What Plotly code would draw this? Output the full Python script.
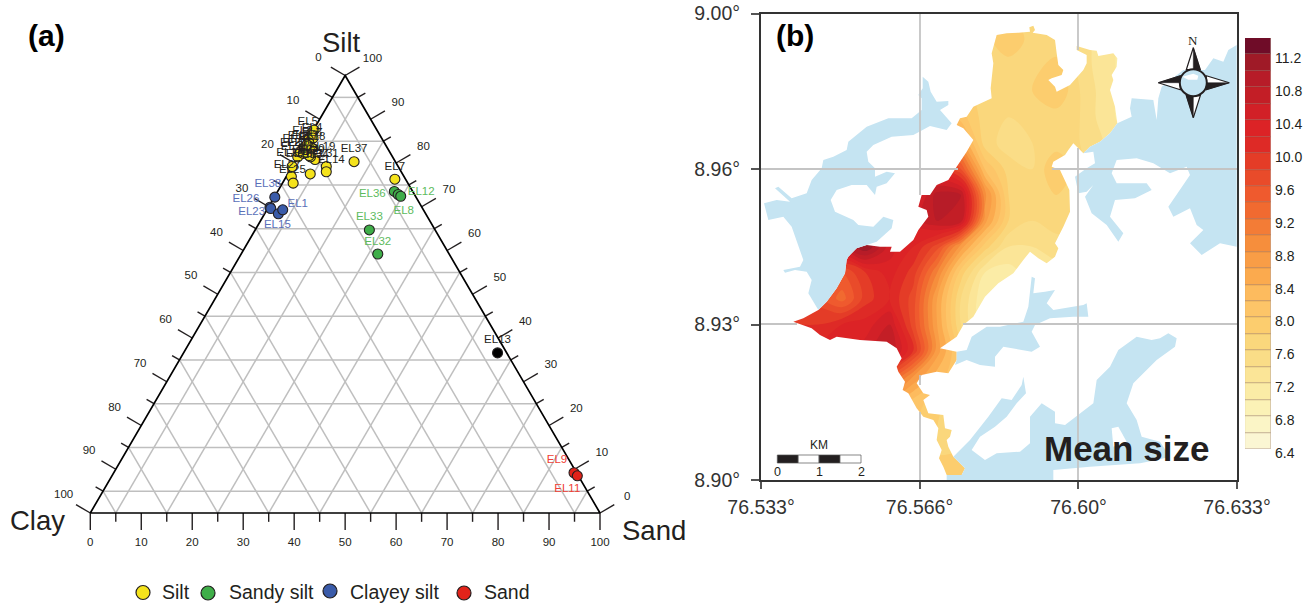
import plotly.graph_objects as go

# ---------- panel (a): ternary data (percent) ----------
SAMPLE_NAMES_SILT = ["EL37","EL7","EL31","EL14","EL34","EL5","EL4","EL6","EL2","EL3","EL10","EL16","EL17","EL18",
                     "EL19","EL20","EL21","EL22","EL24","EL27","EL25","EL28","EL29","EL30"]
SILT_SAND = [11.6,21.6,6.7,7.3,4.4,0.0,0.15,0.85,0.15,0.25,0.6,0.5,1.0,1.8,3.7,2.5,2.1,0.0,0.0,0.0,1.0,2.1,0.4,0.7]
SILT_SILT = [80.3,76.3,79.2,78.0,77.5,86.9,87.5,85.7,85.3,83.7,84.6,82.6,83.0,83.4,80.8,81.4,81.7,81.4,82.5,79.2,76.9,75.4,84.2,82.2]

SANDY_NAMES = ["EL36","EL12","EL8","EL33","EL32"]
SANDY_SAND = [22.9,24.0,24.7,22.4,26.8]
SANDY_SILT = [73.5,72.8,72.4,64.7,59.2]

CLAYEY_NAMES = ["EL38","EL26","EL23","EL15","EL1"]
CLAYEY_SAND = [0.1,0.3,0.6,2.7,3.1]
CLAYEY_SILT = [72.2,69.9,69.6,68.4,69.3]

SAND_NAMES = ["EL9","EL11"]
SAND_SAND = [90.3,91.3]
SAND_SILT = [9.2,8.5]

OTHER_NAMES = ["EL13"]
OTHER_SAND = [61.6]
OTHER_SILT = [36.6]

# label offsets from each point, screen pixels
SILT_LABEL_DX = [0,0,-1,5,5,-4,-2,-1,-6,-7,-13,-3,-2,0,7,-17,-15,-8,5,-5,1,6,4,8]
SILT_LABEL_DY = [-13,-12,-12,-12,-19,-11,-2,-5,-9,-11,-4,-9,-14,-11,-12,-14,-8,-4,-2,-1,-6,-29,7,-4]
SANDY_LABEL_DX = [-22,23,3,0,0]
SANDY_LABEL_DY = [3,-2,15,-13,-12]
CLAYEY_LABEL_DX = [-7,-24,-19,-1,15]
CLAYEY_LABEL_DY = [-13,-8,4,11,-6]
SAND_LABEL_DX = [-17,-10]
SAND_LABEL_DY = [-13,13]
OTHER_LABEL_DX = [0]
OTHER_LABEL_DY = [-13]

TERNARY_MAJOR = [0,10,20,30,40,50,60,70,80,90,100]
TERNARY_MINOR = [5,15,25,35,45,55,65,75,85,95]

LEGEND_NAMES = ["Silt","Sandy silt","Clayey silt","Sand"]
LEGEND_COLORS = ["#f5e31c","#3fae49","#3a5ba9","#e2231a"]
LEGEND_KEY_PX = [143,208,330,464]
LEGEND_KEY_PY = [592.5,593,591,593]
LEGEND_TEXT_PX = [160,227,348,482]

# ---------- panel (b): mean size read on a lon/lat lattice ----------
LON_TICKS = [76.533,76.5663,76.5997,76.633]
LON_LABELS = ["76.533°","76.566°","76.60°","76.633°"]
LAT_TICKS = [8.90,8.93,8.96,8.99]
LAT_LABELS = ["8.90°","8.93°","8.96°","9.00°"]

GRID_LON = [76.535,76.54,76.545,76.55,76.555,76.56,76.565,76.57,76.575,76.58,76.585,76.59,76.595,76.60,76.605,76.61]
GRID_LAT = [8.90,8.905,8.91,8.915,8.92,8.925,8.93,8.935,8.94,8.945,8.95,8.955,8.96,8.965,8.97,8.975,8.98,8.985,8.99]
MEAN_SIZE = [
 [8.0,8.0,8.0,8.0,8.0,8.0,8.0,7.9,7.9,7.8,7.6,7.4,7.2,7.0,7.0,7.0],
 [8.0,8.0,8.0,8.0,8.0,8.0,8.0,7.8,7.8,7.6,7.4,7.2,7.0,7.0,7.0,7.0],
 [8.4,8.4,8.4,8.4,8.4,8.3,8.0,7.8,7.6,7.4,7.2,7.0,7.0,7.0,7.0,7.0],
 [9.0,9.0,9.0,9.0,9.0,8.6,8.1,7.9,7.6,7.2,7.0,7.0,7.0,7.0,7.0,7.0],
 [9.6,9.6,9.6,9.8,10.0,9.6,8.8,8.3,8.0,7.4,7.0,7.0,7.0,7.0,7.0,7.0],
 [10.0,10.0,10.2,10.3,10.5,10.8,10.0,8.7,7.9,7.2,7.0,7.0,7.0,7.0,7.0,7.0],
 [10.0,10.0,10.0,10.2,10.3,10.6,9.7,8.6,7.6,7.0,6.9,7.0,7.1,7.1,7.1,7.1],
 [9.8,9.7,9.7,9.3,9.9,10.2,9.7,8.6,7.6,7.0,6.9,7.0,7.1,7.1,7.1,7.1],
 [10.0,10.0,10.0,9.6,10.0,10.3,9.9,9.0,7.9,7.2,7.1,7.3,7.3,7.3,7.3,7.3],
 [10.5,10.5,10.6,10.7,11.2,10.5,10.2,9.7,8.7,7.9,7.4,7.4,7.5,7.5,7.5,7.5],
 [10.4,10.4,10.4,10.4,10.4,10.4,10.5,10.8,10.7,8.7,7.8,7.6,7.7,7.7,7.6,7.5],
 [10.0,10.0,10.0,10.0,10.0,10.0,10.2,10.9,10.8,8.9,7.8,7.7,7.8,7.7,7.5,7.4],
 [9.6,9.6,9.6,9.6,9.6,9.6,9.8,10.0,9.6,8.2,7.7,7.6,8.0,7.7,7.4,7.3],
 [9.0,9.0,9.0,9.0,9.0,9.0,9.0,9.3,8.7,7.7,7.5,7.6,7.7,7.6,7.4,7.2],
 [8.4,8.4,8.4,8.4,8.4,8.4,8.4,8.5,8.1,7.7,7.6,7.7,7.7,7.6,7.3,7.1],
 [8.0,8.0,8.0,8.0,8.0,8.0,8.0,8.0,7.9,7.7,7.7,7.8,8.0,7.6,7.3,7.1],
 [7.8,7.8,7.8,7.8,7.8,7.8,7.8,7.8,7.8,7.7,7.7,7.7,7.9,7.5,7.3,7.1],
 [7.7,7.7,7.7,7.7,7.7,7.7,7.7,7.7,7.7,7.7,8.0,7.7,7.6,7.5,7.3,7.1],
 [7.7,7.7,7.7,7.7,7.7,7.7,7.7,7.7,7.7,7.7,7.8,7.7,7.6,7.5,7.3,7.1],
]

BAND_LEVELS = [6.4+0.2*i for i in range(25)]
BAND_COLORS = ["#fbf6d3","#fbf5c6","#fbf2b6","#fbeca6","#fbe597","#fadd87","#fad77c","#fccd6e","#fdc568","#fdbb5e",
               "#fbaa4e","#f99d46","#f68e3c","#f37c36","#f16a30","#ef5a2e","#e94b2a","#e43c27","#de2a26","#dc2326",
               "#d22027","#c31e26","#b71c28","#9f1a27","#8c132a"]
COLORBAR_TOP_COLOR = "#6f0c28"
BAR_TICKS = [6.4,6.8,7.2,7.6,8.0,8.4,8.8,9.2,9.6,10.0,10.4,10.8,11.2]

# Shorelines traced at 3x from crops whose corners are (740,20) and (740,260)
EST_A = [(770,45),(800,40),(835,38),(870,35),(868,22),(880,17),(885,30),(878,38),(920,45),(945,60),(950,100),(955,135),(970,150),(965,165),(935,175),(925,180),(945,200),(950,215),(990,195),(1015,165),(1030,150),(1040,130),(1040,105),(1010,90),(1010,78),(1050,90),(1070,92),(1075,108),(1120,100),(1132,115),(1130,140),(1115,165),(1120,180),(1110,210),(1125,260),(1132,310),(1110,340),(1080,365),(1050,380),(1030,400),(1015,385),(1000,370),(985,390),(975,405),(940,425),(935,440),(960,450),(975,480),(988,510),(990,575),(970,620),(945,670),(955,685),(945,710),(920,730),(895,715),(870,695),(850,720)]
EST_B = [(820,40),(775,70),(735,110),(700,170),(670,195),(650,230),(600,265),(650,275),(650,300),(625,340),(590,335),(545,345),(530,370),(540,385),(550,400),(570,405),(550,420),(565,460),(610,465),(615,505),(635,510),(630,530),(620,540),(625,560),(640,590),(660,610),(675,625),(665,645),(620,645),(610,620),(597,595),(605,570),(590,540),(595,505),(580,480),(550,470),(530,445),(505,400),(488,390),(495,365),(475,335),(470,320),(485,295),(470,265),(440,245),(360,240),(315,235),(290,230),(270,240),(240,225),(215,205),(160,185),(190,175),(235,150),(260,125),(290,85),(315,40)]
EST_C = [(320,720),(325,710),(350,685),(380,675),(420,680),(455,680),(450,695),(480,695),(520,660),(535,630),(565,590),(560,570),(535,560),(545,525),(570,525),(590,495),(625,480),(650,440),(680,395),(700,360),(670,325),(650,315),(660,295),(680,290),(700,260),(755,235),(752,205),(760,130),(755,100)]

WATER_LEFT_A = [(72,550),(110,540),(150,545),(105,505),(115,500),(155,535),(200,520),(215,480),(245,445),(250,420),(280,410),(320,390),(325,365),(380,320),(445,295),(515,295),(545,270),(545,235),(535,225),(548,205),(548,170),(565,185),(572,215),(590,245),(625,243),(625,255),(600,270),(635,310),(620,330),(570,318),(520,345),(455,350),(400,375),(380,395),(385,425),(405,445),(405,470),(440,455),(465,460),(440,490),(410,500),(405,525),(380,495),(335,495),(290,510),(272,540),(285,575),(340,600),(355,615),(400,620),(430,590),(460,600),(455,625),(410,665),(380,675),(350,685),(325,710),(320,720)]
WATER_LEFT_B = [(315,40),(290,85),(260,125),(235,150),(205,100),(215,60),(200,35),(165,30),(135,38),(130,30),(180,20),(190,0)]
WATER_LEFT_C = [(155,620),(130,590),(85,600)]
WATER_RIGHT = [(1490,75),(1465,90),(1450,125),(1420,115),(1395,150),(1330,150),(1265,200),(1255,235),(1250,300),(1240,240),(1175,235),(1170,265),(1175,290),(1132,310),(1110,340),(1080,365),(1050,380),(1030,400),(1060,395),(1065,430),(1040,445),(1005,470),(1015,520),(1040,515),(1060,495),(1035,530),(1055,580),(1100,615),(1135,665),(1150,640),(1110,590),(1125,540),(1185,535),(1235,510),(1220,490),(1130,490),(1115,460),(1130,420),(1190,415),(1240,430),(1290,460),(1340,440),(1350,465),(1320,510),(1285,560),(1300,590),(1350,565),(1370,615),(1390,630),(1350,670),(1385,705),(1440,670),(1490,680)]
WATER_CHANNEL = [(650,275),(680,270),(695,230),(740,200),(780,200),(850,185),(865,140),(875,50),(885,55),(880,100),(915,95),(945,90),(920,130),(940,150),(1030,135),(1040,130),(1045,170),(1000,170),(930,175),(885,195),(875,215),(900,260),(875,275),(790,260),(765,290),(765,320),(720,315),(680,300),(645,315),(650,300)]
WATER_LAKE = [(640,590),(690,540),(745,470),(785,415),(815,420),(845,375),(850,350),(858,400),(830,430),(800,470),(765,500),(720,530),(695,570),(735,600),(770,580),(840,575),(870,550),(870,470),(905,430),(945,455),(945,490),(975,495),(1060,430),(1070,360),(1110,320),(1135,270),(1190,230),(1235,240),(1260,235),(1285,220),(1310,235),(1305,260),(1250,300),(1230,320),(1180,370),(1160,430),(1190,480),(1205,530),(1260,545),(1290,590),(1250,600),(1200,610),(1050,620),(940,630),(940,660),(620,660),(620,645),(665,645),(675,625),(660,610)]
ISLET = [(1115,505),(1135,500),(1160,545),(1120,560)]

GRID_SEGMENTS_LAT = [(169,753,958),(169,1052,1237),(324,753,797),(324,963,1237)]
GRID_SEGMENTS_LON = [(920,13.5,195),(920,375,385),(920,412,487),(1078,13.5,50),(1078,148,487)]

INK = "#231f20"
WATER = "#c5e4f2"
GRIDC = "#bfbfbf"
FONT = "Liberation Sans"
W, H = 1313, 604

# ---------- panel geometry (screen pixels) ----------
TX0, TY0, PXX, PXY = 90.3, 513.0, 5.097, 4.375
MX0, MX1, MY0, MY1 = 761.0, 1237.0, 480.0, 13.5
LONR = (76.533, 76.633)
LATR = (8.90, 8.99)


def lon_of(px):
    return LONR[0] + (px - MX0) / (MX1 - MX0) * (LONR[1] - LONR[0])


def lat_of(py):
    return LATR[0] + (py - MY0) / (MY1 - MY0) * (LATR[1] - LATR[0])


def from_crop(points, oy):
    return [(740 + a / 3, oy + b / 3) for a, b in points]


def geo(points):
    return [lon_of(p[0]) for p in points], [lat_of(p[1]) for p in points]


def closed(points):
    return list(points) + [points[0]]


def txy(sand, silt):
    return sand + silt / 2, silt


def tx_of(px):
    return (px - TX0) / PXX


def ty_of(py):
    return (TY0 - py) / PXY


fig = go.Figure()
TAX = dict(xaxis="x", yaxis="y")
MAP = dict(xaxis="x2", yaxis="y2")
SKIP = dict(hoverinfo="skip", showlegend=False)


def tline(xs, ys, color, width):
    fig.add_trace(go.Scatter(x=xs, y=ys, mode="lines", line=dict(color=color, width=width), **TAX, **SKIP))


# ternary grid
gx, gy = [], []
for v in TERNARY_MINOR:
    for a, b in [((0, v), (100 - v, v)), ((v, 0), (v, 100 - v)), ((100 - v, 0), (0, 100 - v))]:
        p, q = txy(*a), txy(*b)
        gx += [p[0], q[0], None]
        gy += [p[1], q[1], None]
tline(gx, gy, GRIDC, 1.5)

# ticks
tx, ty = [], []
lab_x, lab_y, lab_t = [], [], []
for level, dl in [(m, 1.0) for m in TERNARY_MAJOR] + [(m, 0.52) for m in TERNARY_MINOR]:
    major = dl == 1.0
    # bottom (sand)
    p = txy(level, 0)
    tx += [p[0], p[0], None]
    ty += [p[1], p[1] - 17 * dl / PXY, None]
    if major:
        lab_x.append(p[0]); lab_y.append(ty_of(543.5)); lab_t.append(str(level))
    # right side (silt)
    p = txy(100 - level, level)
    tx += [p[0], p[0] + 14.3 * dl / PXX, None]
    ty += [p[1], p[1] + 8.3 * dl / PXY, None]
    if major:
        lab_x.append(p[0] + 27.3 / PXX); lab_y.append(p[1] + 16.3 / PXY); lab_t.append(str(level))
    # left side (clay)
    p = txy(0, 100 - level)
    tx += [p[0], p[0] - 14.3 * dl / PXX, None]
    ty += [p[1], p[1] + 8.3 * dl / PXY, None]
    if major:
        lab_x.append(p[0] - 26.7 / PXX); lab_y.append(p[1] + 17.7 / PXY); lab_t.append(str(level))
tline(tx, ty, INK, 1.4)

# triangle
cx = [txy(0, 0)[0], txy(100, 0)[0], txy(0, 100)[0], txy(0, 0)[0]]
cy = [txy(0, 0)[1], txy(100, 0)[1], txy(0, 100)[1], txy(0, 0)[1]]
tline(cx, cy, "#000000", 1.7)
fig.add_trace(go.Scatter(x=lab_x, y=lab_y, text=lab_t, mode="text", textposition="middle center",
                         textfont=dict(family=FONT, size=11.5, color=INK), **TAX, **SKIP))

# samples
groups = [
    ("Silt", SILT_SAND, SILT_SILT, SAMPLE_NAMES_SILT, SILT_LABEL_DX, SILT_LABEL_DY, LEGEND_COLORS[0], "#231f20"),
    ("Sandy silt", SANDY_SAND, SANDY_SILT, SANDY_NAMES, SANDY_LABEL_DX, SANDY_LABEL_DY, LEGEND_COLORS[1], "#5dbb5d"),
    ("Clayey silt", CLAYEY_SAND, CLAYEY_SILT, CLAYEY_NAMES, CLAYEY_LABEL_DX, CLAYEY_LABEL_DY, LEGEND_COLORS[2], "#5a6fb8"),
    ("Sand", SAND_SAND, SAND_SILT, SAND_NAMES, SAND_LABEL_DX, SAND_LABEL_DY, LEGEND_COLORS[3], "#ef4136"),
    ("Other", OTHER_SAND, OTHER_SILT, OTHER_NAMES, OTHER_LABEL_DX, OTHER_LABEL_DY, "#000000", "#231f20"),
]
for name, sand, silt, names, dx, dy, color, tcolor in groups:
    xs = [txy(a, b)[0] for a, b in zip(sand, silt)]
    ys = [txy(a, b)[1] for a, b in zip(sand, silt)]
    fig.add_trace(go.Scatter(x=xs, y=ys, mode="markers", name=name,
                             marker=dict(color=color, size=10, line=dict(color=INK, width=1.1)),
                             **TAX, showlegend=False))
    fig.add_trace(go.Scatter(x=[x + d / PXX for x, d in zip(xs, dx)], y=[y - d / PXY for y, d in zip(ys, dy)],
                             text=names, mode="text", textposition="middle center",
                             textfont=dict(family=FONT, size=11.5, color=tcolor), **TAX, **SKIP))

# legend keys
fig.add_trace(go.Scatter(x=[tx_of(p) for p in LEGEND_KEY_PX], y=[ty_of(p) for p in LEGEND_KEY_PY], mode="markers",
                         marker=dict(color=LEGEND_COLORS, size=14, line=dict(color=INK, width=1.2)), **TAX, **SKIP))

# ---------- map ----------
scale = [[0.0, BAND_COLORS[0]]] + [[(i + 1) / len(BAND_COLORS), c] for i, c in enumerate(BAND_COLORS)]
fig.add_trace(go.Contour(x=GRID_LON, y=GRID_LAT, z=MEAN_SIZE, colorscale=scale, showscale=False,
                         contours=dict(start=6.4, end=11.2, size=0.2, coloring="fill"),
                         line=dict(width=0), hoverinfo="skip", **MAP))

estuary = from_crop(EST_A, 20) + from_crop(EST_B, 260) + from_crop(EST_C, 20)
outer = [(MX0, MY0), (MX1, MY0), (MX1, MY1), (MX0, MY1), (MX0, MY0)]
ex, ey = geo(closed(estuary))
ox, oy = geo(outer)
fig.add_trace(go.Scatter(x=ox + [None] + ex, y=oy + [None] + ey, mode="lines", fill="toself", fillcolor="#ffffff",
                         line=dict(width=0, color="#ffffff"), **MAP, **SKIP))


def region(points, color):
    xs, ys = geo(closed(points))
    fig.add_trace(go.Scatter(x=xs, y=ys, mode="lines", fill="toself", fillcolor=color,
                             line=dict(width=0, color=color), **MAP, **SKIP))


region(from_crop(WATER_LEFT_A, 20) + from_crop(WATER_LEFT_B, 260) + from_crop(WATER_LEFT_C, 20), WATER)
region(from_crop(WATER_RIGHT, 20), WATER)
region(from_crop(WATER_CHANNEL, 260), WATER)
region(from_crop(WATER_LAKE, 260), WATER)
region(from_crop(ISLET, 260), "#ffffff")

# graticule, broken where the estuary covers it
lx, ly = [], []
for y, a, b in GRID_SEGMENTS_LAT:
    lx += [lon_of(a), lon_of(b), None]
    ly += [lat_of(y), lat_of(y), None]
for x, a, b in GRID_SEGMENTS_LON:
    lx += [lon_of(x), lon_of(x), None]
    ly += [lat_of(a), lat_of(b), None]
fig.add_trace(go.Scatter(x=lx, y=ly, mode="lines", line=dict(color="#c4c4c4", width=1.8), cliponaxis=False, **MAP, **SKIP))

# scale bar
bar = [777.3, 798.2, 819.1, 840, 861]
for i in range(4):
    pts = [(bar[i], 455), (bar[i + 1], 455), (bar[i + 1], 463), (bar[i], 463)]
    xs, ys = geo(closed(pts))
    c = INK if i % 2 == 0 else "#ffffff"
    fig.add_trace(go.Scatter(x=xs, y=ys, mode="lines", fill="toself", fillcolor=c,
                             line=dict(color="#555555", width=0.7), **MAP, **SKIP))

# compass rose
CX, CY = 1193.3, 82.7
arms = [((0, -35), (-7, -13), (7, -13)), ((36, 0), (13, -7), (13, 7)), ((0, 35), (7, 13), (-7, 13)), ((-35, 0), (-13, 7), (-13, -7))]
for tip, a, b in arms:
    p = [(CX + tip[0], CY + tip[1]), (CX + a[0], CY + a[1]), (CX + b[0], CY + b[1])]
    xs, ys = geo(closed(p))
    fig.add_trace(go.Scatter(x=xs, y=ys, mode="lines", fill="toself", fillcolor="#ffffff",
                             line=dict(color=INK, width=1.2), **MAP, **SKIP))
    mid = ((a[0] + b[0]) / 2 * 1.0, (a[1] + b[1]) / 2 * 1.0)
    q = [(CX + tip[0], CY + tip[1]), (CX + mid[0], CY + mid[1]), (CX + b[0], CY + b[1])]
    xs, ys = geo(closed(q))
    fig.add_trace(go.Scatter(x=xs, y=ys, mode="lines", fill="toself", fillcolor=INK,
                             line=dict(color=INK, width=0.5), **MAP, **SKIP))
xs, ys = geo([(CX, CY)])
fig.add_trace(go.Scatter(x=xs, y=ys, mode="markers",
                         marker=dict(color=WATER, size=27, line=dict(color=INK, width=2)), **MAP, **SKIP))
xs, ys = geo(closed([(CX - 11, CY - 6), (CX, CY - 9), (CX + 5, CY - 7), (CX + 4, CY - 3), (CX - 5, CY - 3)]))
fig.add_trace(go.Scatter(x=xs, y=ys, mode="lines", fill="toself", fillcolor="#ffffff",
                         line=dict(width=0, color="#ffffff"), **MAP, **SKIP))

# colour bar
fig.add_trace(go.Bar(x=[0] * (len(BAND_LEVELS)), y=[0.2] * len(BAND_LEVELS), base=BAND_LEVELS, width=1,
                     marker=dict(color=BAND_COLORS[:-1] + [COLORBAR_TOP_COLOR],
                                 line=dict(color="rgba(120,80,60,0.45)", width=0.7)),
                     xaxis="x3", yaxis="y3", hoverinfo="skip", showlegend=False))

annotations = []


def label(px, py, text, size, bold=False, color=INK, family=FONT, anchor="center"):
    annotations.append(dict(x=px / W, y=1 - py / H, xref="paper", yref="paper", text=f"<b>{text}</b>" if bold else text,
                            showarrow=False, xanchor=anchor, yanchor="middle",
                            font=dict(family=family, size=size, color=color)))


label(46, 35, "(a)", 30, True, "#000000")
label(795, 35, "(b)", 30, True, "#000000")
label(341, 42, "Silt", 27.5)
label(37, 520, "Clay", 27.5)
label(654, 530, "Sand", 27.5)
for name, p in zip(LEGEND_NAMES, LEGEND_TEXT_PX):
    label(p, 592, name, 19.5, anchor="left")
label(1126, 448, "Mean size", 35, True)
label(819, 445, "KM", 12)
for t, p in zip(["0", "1", "2"], [777.3, 819.1, 861]):
    label(p, 472, t, 12.5)
label(1193, 40, "N", 13, family="Liberation Serif")

axis_off = dict(visible=False, showgrid=False, zeroline=False, automargin=False)
fig.update_layout(
    template="none",
    width=W, height=H, autosize=False, margin=dict(l=0, r=0, t=0, b=0, pad=0, autoexpand=False),
    paper_bgcolor="#ffffff", plot_bgcolor="rgba(0,0,0,0)", showlegend=False, bargap=0,
    font=dict(family=FONT, color=INK),
    xaxis=dict(domain=[0, 0.5], range=[tx_of(0), tx_of(W / 2)], **axis_off),
    yaxis=dict(domain=[0, 1], range=[ty_of(H), ty_of(0)], **axis_off),
    xaxis2=dict(domain=[MX0 / W, MX1 / W], range=list(LONR), tickvals=LON_TICKS, ticktext=LON_LABELS, automargin=False,
                showgrid=False, zeroline=False, showline=True, mirror=True, linecolor="#333333", linewidth=2,
                ticks="outside", ticklen=7, tickcolor="#555555", tickwidth=1.5, anchor="y2",
                ticklabelstandoff=2, tickfont=dict(family=FONT, size=19.5, color="#333333")),
    yaxis2=dict(domain=[1 - MY0 / H, 1 - MY1 / H], range=list(LATR), tickvals=LAT_TICKS, ticktext=LAT_LABELS, automargin=False,
                showgrid=False, zeroline=False, showline=True, mirror=True, linecolor="#333333", linewidth=2,
                ticks="outside", ticklen=8, tickcolor="#555555", tickwidth=1.5, anchor="x2",
                ticklabelstandoff=7, tickfont=dict(family=FONT, size=19.5, color="#333333")),
    xaxis3=dict(domain=[1245 / W, 1271 / W], range=[-0.5, 0.5], anchor="y3", **axis_off),
    yaxis3=dict(domain=[1 - 449 / H, 1 - 38 / H], range=[6.4, 11.4], side="right", anchor="x3", showgrid=False, automargin=False,
                zeroline=False, showline=False, ticks="", tickvals=BAR_TICKS, ticktext=[f"{v:.1f}" for v in BAR_TICKS],
                tickfont=dict(family=FONT, size=14, color=INK), ticklabelshift=4, ticklabelstandoff=3),
    annotations=annotations,
)

fig.write_html("out.html", config=dict(displayModeBar=False),
               post_script="document.body.style.margin='0';document.body.style.overflow='hidden';")
